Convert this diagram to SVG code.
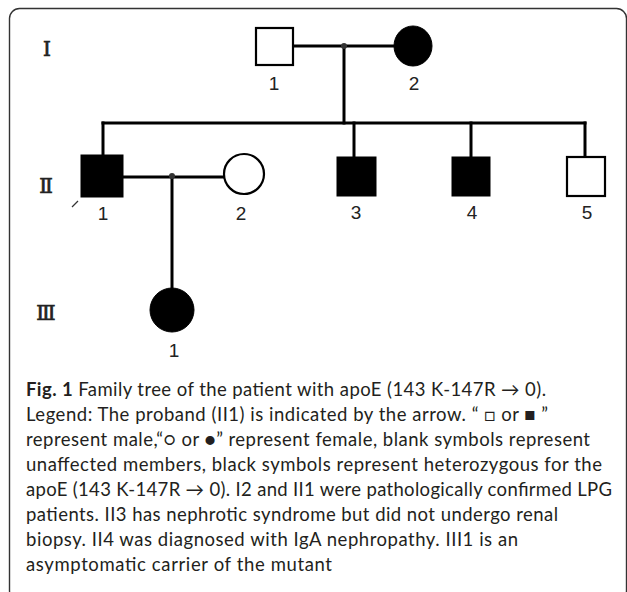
<svg xmlns="http://www.w3.org/2000/svg" width="627" height="592" viewBox="0 0 627 592">
<style>
.con{stroke:#000;stroke-width:3;fill:none;stroke-linecap:square}
.open{fill:#fff;stroke:#000;stroke-width:2.2}
.aff{fill:#000;stroke:#000;stroke-width:1}
.num{font-family:"Liberation Sans",Arial,sans-serif;font-size:19px;fill:#222;text-anchor:middle}
.gen{font-family:"DejaVu Serif","Liberation Serif",serif;font-size:20px;fill:#222;stroke:#222;stroke-width:0.7;text-anchor:middle}
.cap{font-family:Lato,"Liberation Sans","DejaVu Sans",sans-serif;font-size:18.5px;fill:#231f20}
</style>
<rect x="9.5" y="8.5" width="617" height="592" rx="10" fill="#fff" stroke="#333" stroke-width="1.4"/>
<g id="generations">
<text class="gen" x="47" y="56">Ⅰ</text>
<text class="gen" x="46" y="193">Ⅱ</text>
<text class="gen" x="46" y="320">Ⅲ</text>
</g>
<g id="connectors">
<line class="con" x1="293" y1="46" x2="394" y2="46"/>
<line class="con" x1="344" y1="46" x2="344" y2="123"/>
<line class="con" x1="103" y1="123" x2="585" y2="123"/>
<line class="con" x1="103" y1="123" x2="103" y2="155"/>
<line class="con" x1="354" y1="123" x2="354" y2="157"/>
<line class="con" x1="471" y1="123" x2="471" y2="157"/>
<line class="con" x1="585" y1="123" x2="585" y2="157"/>
<line class="con" x1="123" y1="177" x2="224" y2="177"/>
<line class="con" x1="172" y1="177" x2="172" y2="288"/>
<circle cx="344" cy="46" r="3" fill="#333"/>
<circle cx="172" cy="176" r="3" fill="#333"/>
<line x1="72" y1="207" x2="78" y2="201" stroke="#333" stroke-width="1.3"/>
</g>
<g id="I1"><rect class="open" x="256" y="28" width="37" height="37"/><text class="num" x="274" y="90">1</text></g>
<g id="I2"><ellipse class="aff" cx="413" cy="46" rx="19" ry="20"/><text class="num" x="414" y="90">2</text></g>
<g id="II1"><rect class="aff" x="81" y="155" width="42" height="42"/><text class="num" x="103" y="220">1</text></g>
<g id="II2"><ellipse class="open" cx="244" cy="174" rx="20" ry="20" stroke-width="2.6"/><text class="num" x="241" y="220">2</text></g>
<g id="II3"><rect class="aff" x="337" y="157" width="39" height="39"/><text class="num" x="356" y="219">3</text></g>
<g id="II4"><rect class="aff" x="452" y="157" width="38" height="39"/><text class="num" x="472" y="219">4</text></g>
<g id="II5"><rect class="open" x="567" y="157" width="38" height="39"/><text class="num" x="587" y="219">5</text></g>
<g id="III1"><circle class="aff" cx="172" cy="310" r="22"/><text class="num" x="174" y="357">1</text></g>
<g id="caption">
<text class="cap" x="26" y="396" textLength="520"><tspan font-weight="bold">Fig. 1</tspan> Family tree of the patient with apoE (143 K-147R → 0).</text>
<text class="cap" x="26" y="421" textLength="522">Legend: The proband (II1) is indicated by the arrow. “ □ or ■ ”</text>
<text class="cap" x="26" y="446" textLength="564">represent male,“○ or ●” represent female, blank symbols represent</text>
<text class="cap" x="26" y="471" textLength="576">unaffected members, black symbols represent heterozygous for the</text>
<text class="cap" x="26" y="496" textLength="586">apoE (143 K-147R → 0). I2 and II1 were pathologically confirmed LPG</text>
<text class="cap" x="26" y="521" textLength="532">patients. II3 has nephrotic syndrome but did not undergo renal</text>
<text class="cap" x="26" y="546" textLength="492">biopsy. II4 was diagnosed with IgA nephropathy. III1 is an</text>
<text class="cap" x="26" y="571" textLength="306">asymptomatic carrier of the mutant</text>
</g>
</svg>
